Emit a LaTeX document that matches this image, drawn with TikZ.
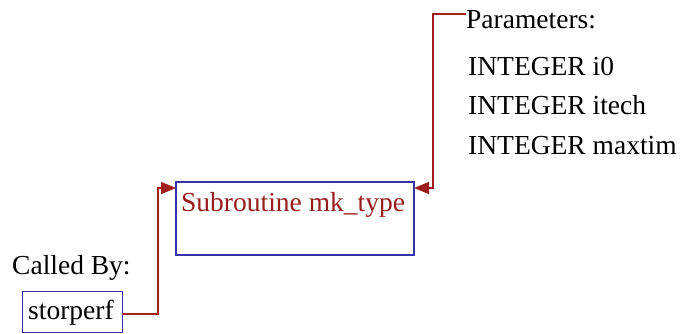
\documentclass[tikz,border=0pt]{standalone}
\usepackage{fontspec}
\setmainfont{Liberation Serif}
\usetikzlibrary{arrows.meta}
\definecolor{boxblue}{RGB}{52,52,170}
\definecolor{linered}{RGB}{160,30,30}
\definecolor{txtred}{RGB}{150,30,30}
\begin{document}
\begin{tikzpicture}[x=1pt,y=-1pt,
  lbl/.style={anchor=west,inner sep=0pt,font=\fontsize{27.5}{32}\selectfont},
  conn/.style={draw=linered,line width=1.5pt,-{Triangle[length=15pt,width=12pt]}}]
\useasboundingbox (0,0) rectangle (681,333);
\node[draw=boxblue,line width=1.3pt,minimum width=238pt,minimum height=73pt,inner sep=0pt] (main) at (295,218.5) {};
\node[lbl,text=txtred] (mainlbl) at (181,205) {Subroutine mk\_type};
\node[draw=boxblue,line width=1.3pt,minimum width=100pt,minimum height=41pt,inner sep=0pt,anchor=north west] (sp) at (22,291) {};
\node[lbl] (splbl) at (28,313) {storperf};
\node[lbl] (called) at (12,268) {Called By:};
\node[lbl] (params) at (466,20) {Parameters:};
\node[lbl] (p1) at (468,66) {INTEGER i0};
\node[lbl] (p2) at (468,105) {INTEGER itech};
\node[lbl] (p3) at (468,146) {INTEGER maxtim};
\coordinate (spout) at (122,314);
\coordinate (mainin) at (176,188);
\coordinate (mainr) at (414,188);
\coordinate (pin) at (466,14);
\draw[conn] (spout) -- (158,314) -- (158,188) -- (mainin);
\draw[conn] (pin) -- (433,14) -- (433,188) -- (mainr);
\end{tikzpicture}
\end{document}
